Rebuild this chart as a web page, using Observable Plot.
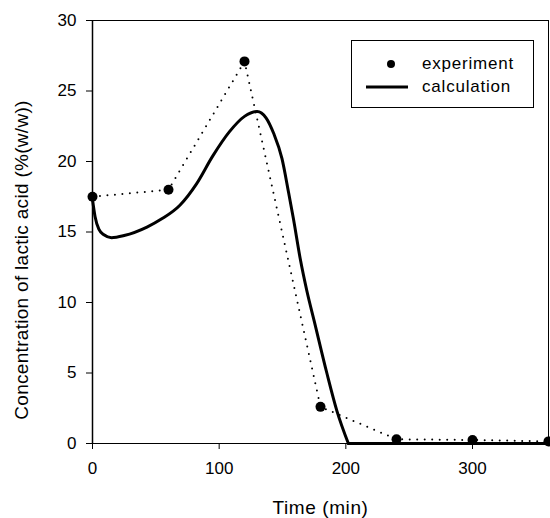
<!DOCTYPE html>
<html><head><meta charset="utf-8">
<script src="https://cdn.jsdelivr.net/npm/d3@7"></script>
<script src="https://cdn.jsdelivr.net/npm/@observablehq/plot@0.6"></script>
<style>
body{margin:0;background:#fff;}
#wrap{position:relative;width:550px;height:518px;font-family:"Liberation Sans",Arial,sans-serif;}
#legend{position:absolute;left:351px;top:40px;width:183px;height:68px;border:1px solid #000;background:#fff;box-sizing:border-box;}
#legend .row{position:absolute;left:0;height:20px;display:flex;align-items:center;}
#legend .lab{position:absolute;left:70px;font-size:17px;letter-spacing:0.8px;white-space:nowrap;}
</style></head><body><div id="wrap"></div>
<script>
const expTime=[0,60,120,180,240,300,360];
const expConc=[17.5,18.0,27.1,2.6,0.3,0.25,0.15];
const calcTime=[0,2,5,9,15,25,43,55,69,82,95,108,120,130,137,143,149.6,154.8,158.7,164,169.3,175,185,193,202,360];
const calcConc=[17.3,16.1,15.2,14.8,14.6,14.75,15.35,15.95,16.9,18.4,20.4,22.1,23.2,23.55,23.1,22.0,20.2,17.8,15.9,13.1,10.8,8.7,5.0,2.3,0,0];
const xTicks=[0,100,200,300];
const yTicks=[0,5,10,15,20,25,30];
const seriesNames=["experiment","calculation"];
const xLabel="Time (min)";
const yLabel="Concentration of lactic acid (%(w/w))";

const expData=expTime.map((t,i)=>({t,c:expConc[i]}));
const calcData=calcTime.map((t,i)=>({t,c:calcConc[i]}));
const breakT=202;

const chart=Plot.plot({
  width:550,height:518,marginLeft:92,marginRight:2,marginTop:20,marginBottom:75,
  style:{fontFamily:"'Liberation Sans', Arial, sans-serif",fontSize:"17px",color:"#000",background:"#fff",overflow:"visible"},
  x:{domain:[0,360]},
  y:{domain:[0,30]},
  marks:[
    Plot.ruleY([30],{stroke:"#000",strokeWidth:1}),
    Plot.ruleX([360],{stroke:"#000",strokeWidth:1}),
    Plot.line(expData,{x:"t",y:"c",stroke:"#000",strokeWidth:2,strokeDasharray:"0,7.5",strokeLinecap:"round"}),
    Plot.line(calcData.filter(d=>d.t<=breakT),{x:"t",y:"c",curve:"monotone-x",stroke:"#000",strokeWidth:3}),
    Plot.line(calcData.filter(d=>d.t>=breakT),{x:"t",y:"c",stroke:"#000",strokeWidth:3}),
    Plot.dot(expData,{x:"t",y:"c",r:5,fill:"#000",stroke:"none"}),
    Plot.axisX({ticks:xTicks,tickSize:6,tickPadding:12,fontSize:17,label:xLabel,labelAnchor:"center",labelArrow:"none",labelOffset:70}),
    Plot.axisY({ticks:yTicks,tickSize:6,tickPadding:10,fontSize:17,label:yLabel,labelAnchor:"center",labelArrow:"none",labelOffset:78}),
    Plot.ruleX([0],{stroke:"#000",strokeWidth:1.5}),
    Plot.ruleY([0],{stroke:"#000",strokeWidth:1})
  ]
});
const wrap=document.getElementById("wrap");
wrap.appendChild(chart);
d3.select(chart).selectAll('[aria-label="x-axis label"] text').style("font-size","19px").style("letter-spacing","0.6px");
d3.select(chart).selectAll('[aria-label="y-axis label"] text').style("font-size","19px").style("letter-spacing","0.3px");
const yl=d3.select(chart).select('[aria-label="y-axis label"]');
yl.attr("transform","translate(0,28) "+(yl.attr("transform")||""));

// legend
const leg=document.createElement("div");
leg.id="legend";
const mk=(i)=>{
  const row=document.createElement("div");
  row.className="row";
  row.style.top=(i===0?13:36)+"px";
  row.style.width="100%";
  const sw=document.createElementNS("http://www.w3.org/2000/svg","svg");
  sw.setAttribute("width","60");sw.setAttribute("height","20");
  sw.style.position="absolute";sw.style.left="10px";
  if(i===0){
    const c=document.createElementNS("http://www.w3.org/2000/svg","circle");
    c.setAttribute("cx","29");c.setAttribute("cy","10");c.setAttribute("r","4");c.setAttribute("fill","#000");
    sw.appendChild(c);
  } else {
    const l=document.createElementNS("http://www.w3.org/2000/svg","line");
    l.setAttribute("x1","4");l.setAttribute("x2","46");l.setAttribute("y1","10");l.setAttribute("y2","10");
    l.setAttribute("stroke","#000");l.setAttribute("stroke-width","3");
    sw.appendChild(l);
  }
  row.appendChild(sw);
  const lab=document.createElement("span");
  lab.className="lab";lab.textContent=seriesNames[i];
  row.appendChild(lab);
  leg.appendChild(row);
};
mk(0);mk(1);
wrap.appendChild(leg);
</script>
</body></html>
